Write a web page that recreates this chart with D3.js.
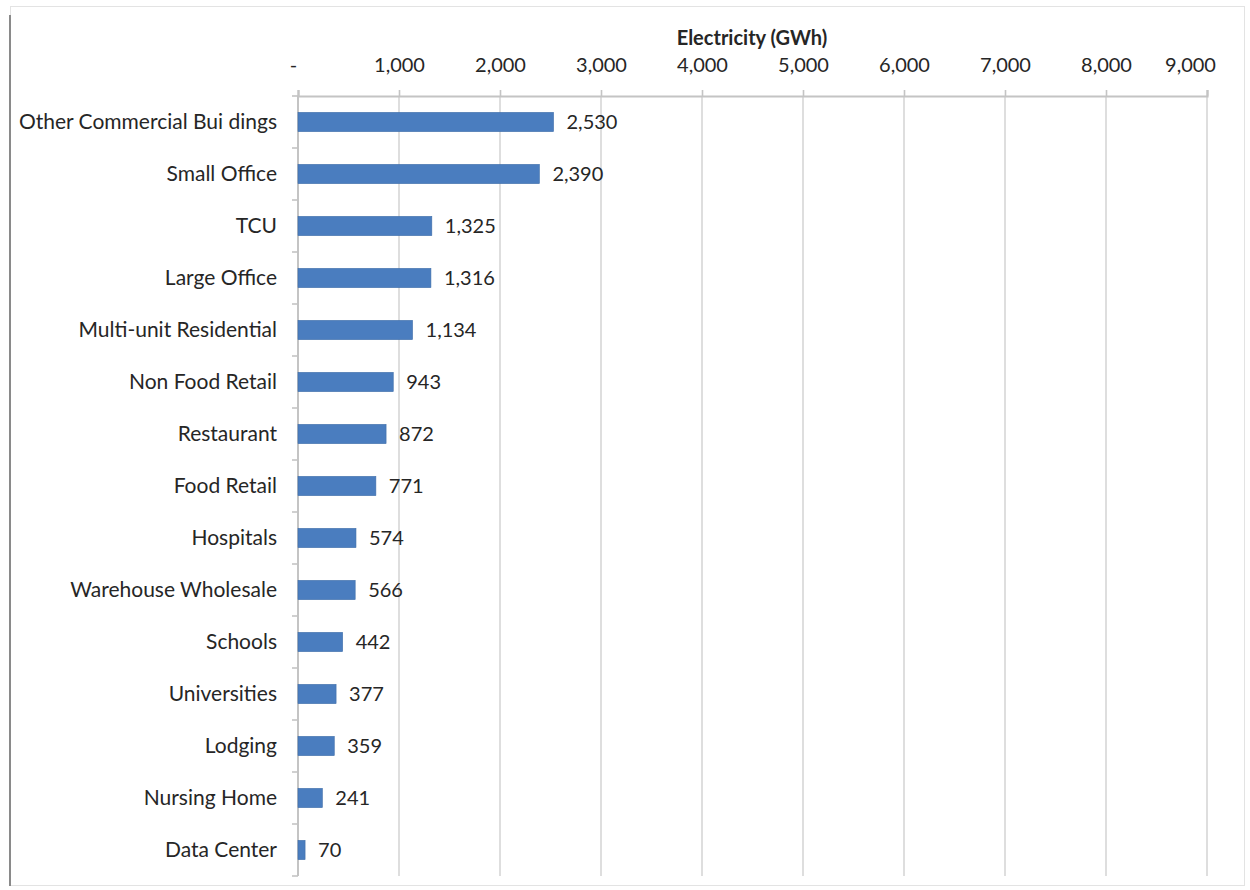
<!DOCTYPE html>
<html>
<head>
<meta charset="utf-8">
<script src="https://cdn.jsdelivr.net/npm/d3@7"></script>
<style>
html,body{margin:0;padding:0;background:#fff;}
svg text{font-family:Lato,"Open Sans",sans-serif;fill:#262626;}
</style>
</head>
<body>
<svg id="chart" width="1250" height="890"></svg>
<script>
const categories = ["Other Commercial Bui dings","Small Office","TCU","Large Office","Multi-unit Residential","Non Food Retail","Restaurant","Food Retail","Hospitals","Warehouse Wholesale","Schools","Universities","Lodging","Nursing Home","Data Center"];
const values = [2530,2390,1325,1316,1134,943,872,771,574,566,442,377,359,241,70];
const valueLabels = ["2,530","2,390","1,325","1,316","1,134","943","872","771","574","566","442","377","359","241","70"];
const tickValues = [0,1000,2000,3000,4000,5000,6000,7000,8000,9000];
const tickLabels = ["-","1,000","2,000","3,000","4,000","5,000","6,000","7,000","8,000","9,000"];
const axisTitle = "Electricity (GWh)";

(function(){
const svg = d3.select("#chart");
const pL = 298, pR = 1207, pT = 96, pB = 876;

// outer frame
svg.append("rect").attr("x",10.5).attr("y",6.5).attr("width",1234).attr("height",879)
  .attr("fill","none").attr("stroke","#e3e3e3").attr("stroke-width",1);
svg.append("line").attr("x1",10).attr("x2",10).attr("y1",15).attr("y2",886)
  .attr("stroke","#8a8a8a").attr("stroke-width",2);

const x = d3.scaleLinear().domain([0,9000]).range([pL,pR]);
const y = d3.scaleBand().domain(categories).range([pT,pB]).paddingInner(0.63).paddingOuter(0.315);

// gridlines
svg.append("g").selectAll("line").data(tickValues.slice(1)).join("line")
  .attr("x1",d=>x(d)).attr("x2",d=>x(d)).attr("y1",pT).attr("y2",pB)
  .attr("stroke","#d6d6d6").attr("stroke-width",1.6);

// top axis
const xAxis = d3.axisTop(x).tickValues(tickValues).tickFormat((d,i)=>tickLabels[i]).tickSize(6).tickPadding(18);
const gx = svg.append("g").attr("transform",`translate(0,${pT})`).call(xAxis);
gx.select(".domain").attr("stroke","#c4c4c4").attr("stroke-width",2.2);
gx.selectAll(".tick line").attr("stroke","#c4c4c4").attr("stroke-width",1.6);
gx.selectAll(".tick text").attr("font-size",20).attr("fill","#262626").style("font-family","Lato");
gx.selectAll(".tick text").filter(d=>d===0).attr("dx",-5);
gx.selectAll(".tick text").filter(d=>d===9000).attr("dx",-17);

// left axis with boundary ticks
svg.append("line").attr("x1",pL).attr("x2",pL).attr("y1",pT).attr("y2",pB)
  .attr("stroke","#c4c4c4").attr("stroke-width",2);
const bounds = d3.range(categories.length+1).map(i=>pT + i*(pB-pT)/categories.length);
svg.append("g").selectAll("line").data(bounds).join("line")
  .attr("x1",pL-6).attr("x2",pL).attr("y1",d=>d).attr("y2",d=>d)
  .attr("stroke","#c4c4c4").attr("stroke-width",1.6);

// category labels
svg.append("g").selectAll("text").data(categories).join("text")
  .attr("x",277).attr("y",d=>y(d)+y.bandwidth()/2).attr("dy","0.35em")
  .attr("text-anchor","end").attr("font-size",21).text(d=>d);

// bars
svg.append("g").selectAll("rect").data(values).join("rect")
  .attr("x",x(0)).attr("y",(d,i)=>y(categories[i]))
  .attr("width",d=>x(d)-x(0)).attr("height",y.bandwidth())
  .attr("fill","#4a7dbf").attr("stroke","#3f6ea9").attr("stroke-width",0.6);

// value labels
svg.append("g").selectAll("text").data(values).join("text")
  .attr("x",d=>x(d)+13).attr("y",(d,i)=>y(categories[i])+y.bandwidth()/2).attr("dy","0.35em")
  .attr("font-size",20).text((d,i)=>valueLabels[i]);

// title
svg.append("text").attr("x",752).attr("y",45).attr("text-anchor","middle")
  .attr("font-size",20).attr("font-weight","bold").text(axisTitle);
})();
</script>
</body>
</html>
